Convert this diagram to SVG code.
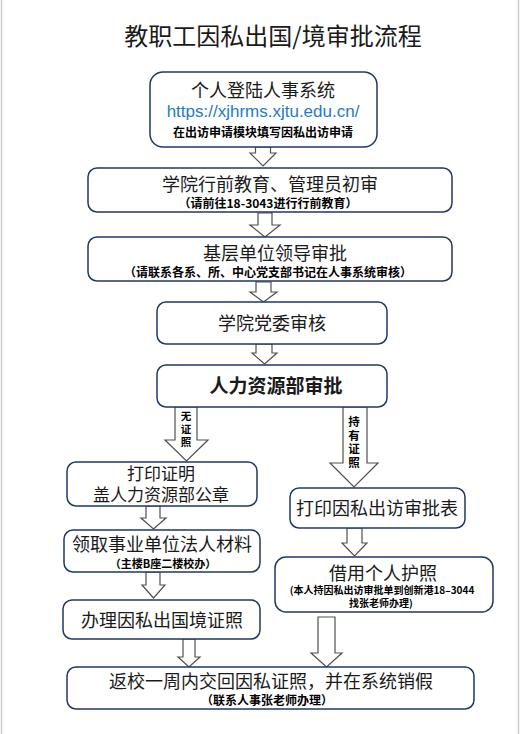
<svg xmlns="http://www.w3.org/2000/svg" width="522" height="734" viewBox="0 0 522 734">
<style>
.box{fill:#fff;stroke:#1F3864;stroke-width:1.5}
.arr{fill:#fff;stroke:#505050;stroke-width:1.2;stroke-linejoin:miter}
.t{font-family:"Noto Sans CJK SC","Liberation Sans",sans-serif;fill:#1a1a1a;text-anchor:middle}
.m{font-size:18px}
.s{font-size:12px;font-weight:bold;fill:#000}
.xs{font-size:10px;font-weight:bold;fill:#000}
.lab{font-size:10.5px;font-weight:bold;fill:#000}
.url{font-family:"Liberation Sans","Open Sans",sans-serif;font-size:17px;fill:#1F7BC4;text-anchor:middle}
</style>
<rect x="0" y="0" width="522" height="734" fill="#fff"/>
<line x1="1.5" y1="0" x2="1.5" y2="734" stroke="#cfcfcf" stroke-width="1.5"/>
<line x1="518.5" y1="0" x2="518.5" y2="734" stroke="#cfcfcf" stroke-width="1.5"/>
<text class="t" x="273" y="45" style="font-size:24px">教职工因私出国/境审批流程</text>

<g id="connectors">
<polygon class="arr" points="255.5,147 270.5,147 270.5,153 276,153 263,166 250,153 255.5,153"/>
<polygon class="arr" points="258,213 272,213 272,225 280,225 265,237 250,225 258,225"/>
<polygon class="arr" points="256,282 271,282 271,292 277,292 263.5,302 250,292 256,292"/>
<polygon class="arr" points="256,344 272,344 272,353 277,353 264.5,364 252,353 256,353"/>
<polygon class="arr" points="175,407 197,407 197,440 208,440 186.5,461 165,440 175,440"/>
<polygon class="arr" points="343,407 367,407 367,463 378,463 354,487 330,463 343,463"/>
<polygon class="arr" points="146,506 160,506 160,518 166,518 153.5,529 141,518 146,518"/>
<polygon class="arr" points="146,572 160,572 160,585 165,585 153.5,598 142,585 146,585"/>
<polygon class="arr" points="347,528 362,528 362,543 367,543 354.5,556 342,543 347,543"/>
<polygon class="arr" points="183,639 195,639 195,657 200,657 189,667 178,657 183,657"/>
<polygon class="arr" points="318,617 335,617 335,653 342,653 326.5,667 311,653 318,653"/>
<text class="t lab"><tspan x="186" y="420">无</tspan><tspan x="186" y="433">证</tspan><tspan x="186" y="446">照</tspan></text>
<text class="t lab" style="font-size:11.5px"><tspan x="354" y="426">持</tspan><tspan x="354" y="439.5">有</tspan><tspan x="354" y="453">证</tspan><tspan x="354" y="466.5">照</tspan></text>
</g>

<g id="n1">
<rect class="box" x="150" y="72" width="227" height="75" rx="13"/>
<text class="t m" x="263" y="97">个人登陆人事系统</text>
<text class="url" x="263" y="117">https://xjhrms.xjtu.edu.cn/</text>
<text class="t s" x="263" y="137">在出访申请模块填写因私出访申请</text>
</g>
<g id="n2">
<rect class="box" x="88" y="168" width="364" height="44" rx="9"/>
<text class="t m" x="270" y="191">学院行前教育、管理员初审</text>
<text class="t s" x="268" y="207.5">（请前往18-3043进行行前教育）</text>
</g>
<g id="n3">
<rect class="box" x="88" y="237" width="364" height="44" rx="9"/>
<text class="t m" x="275" y="260">基层单位领导审批</text>
<text class="t s" x="268" y="276.5">（请联系各系、所、中心党支部书记在人事系统审核）</text>
</g>
<g id="n4">
<rect class="box" x="157" y="302" width="230" height="42" rx="9"/>
<text class="t m" x="272" y="330">学院党委审核</text>
</g>
<g id="n5">
<rect class="box" x="157" y="365" width="230" height="42" rx="9"/>
<text class="t" x="276" y="393" style="font-size:19px;font-weight:600">人力资源部审批</text>
</g>
<g id="n6">
<rect class="box" x="67" y="462" width="190" height="44" rx="9"/>
<text class="t" x="161" y="480" style="font-size:17px">打印证明</text>
<text class="t" x="161" y="501" style="font-size:17px">盖人力资源部公章</text>
</g>
<g id="n7">
<rect class="box" x="64" y="530" width="196" height="42" rx="9"/>
<text class="t m" x="162" y="551">领取事业单位法人材料</text>
<text class="t" x="163" y="568" style="font-size:11px;font-weight:bold;fill:#000">（主楼B座二楼校办）</text>
</g>
<g id="n8">
<rect class="box" x="63" y="600" width="197" height="39" rx="9"/>
<text class="t m" x="162" y="627">办理因私出国境证照</text>
</g>
<g id="n9">
<rect class="box" x="290" y="488" width="175" height="40" rx="9"/>
<text class="t m" x="377" y="515">打印因私出访审批表</text>
</g>
<g id="n10">
<rect class="box" x="275" y="557" width="218" height="55" rx="11"/>
<text class="t m" x="383" y="580">借用个人护照</text>
<text class="t xs" x="382" y="594">(本人持因私出访审批单到创新港18–3044</text>
<text class="t xs" x="381" y="606.5">找张老师办理)</text>
</g>
<g id="n11">
<rect class="box" x="67" y="667" width="407" height="42" rx="9"/>
<text class="t m" x="271" y="688">返校一周内交回因私证照，并在系统销假</text>
<text class="t" x="267" y="705" style="font-size:12px;font-weight:bold;fill:#000">（联系人事张老师办理）</text>
</g>
</svg>
